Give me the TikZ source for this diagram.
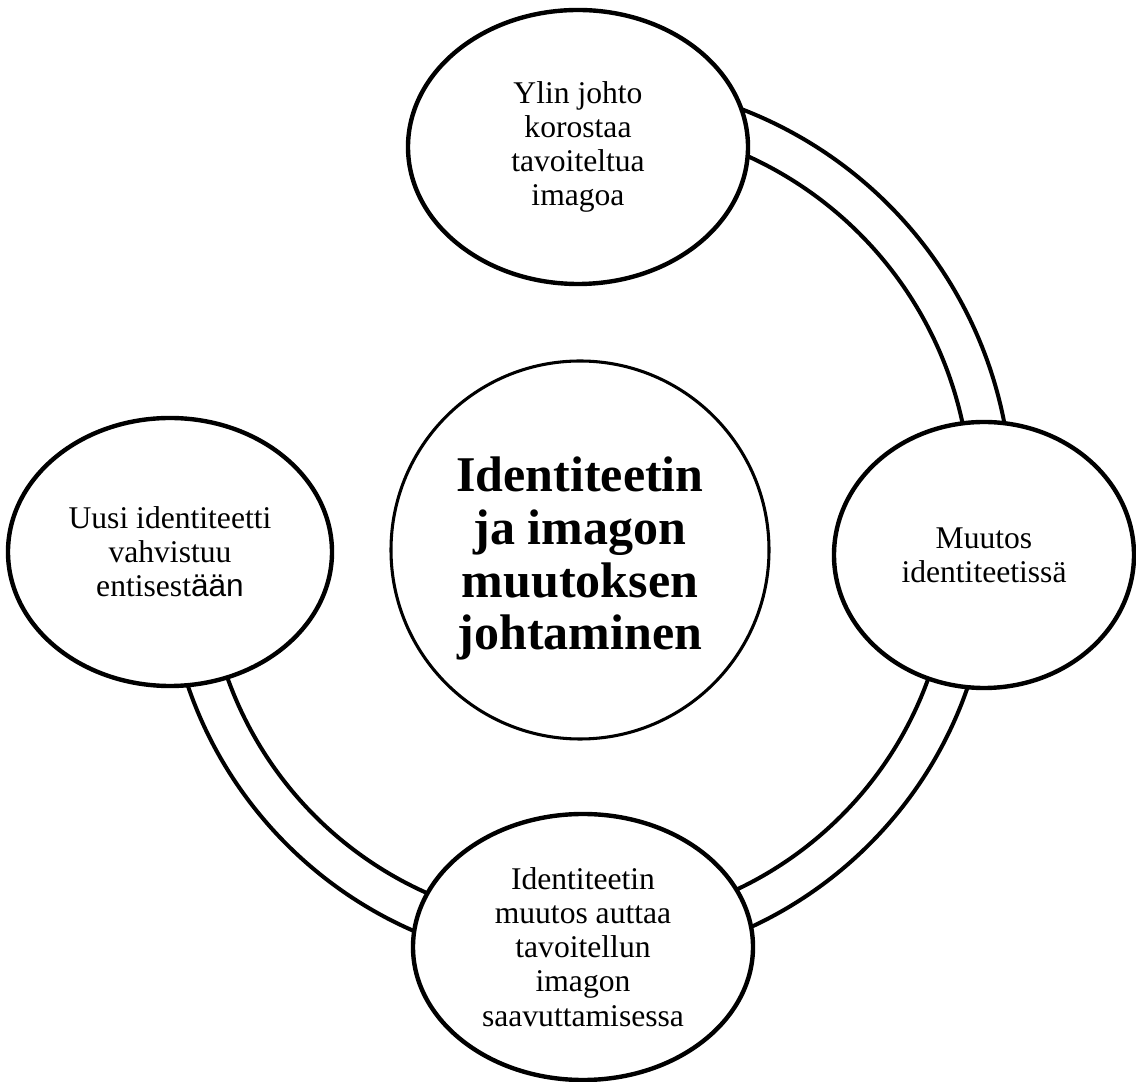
\documentclass[tikz,border=0pt]{standalone}
\usepackage{fontspec}
\setmainfont{Liberation Serif}
\newfontfamily\arialfont{Liberation Sans}
\usetikzlibrary{shapes.geometric,backgrounds}

\begin{document}
\begin{tikzpicture}[x=0.75pt,y=0.75pt,
  bubble/.style={ellipse, draw, line width=3.3pt, fill=white, inner sep=0pt,
    align=center, font=\fontsize{23.7}{25.6}\selectfont},
  hub/.style={circle, draw, line width=2.3pt, fill=white, inner sep=0pt,
    minimum size=283.5pt},
  hubtext/.style={align=center, inner sep=0pt,
    font=\fontsize{37.5}{39.5}\selectfont\bfseries},
  band/.style={line width=3pt}]
\useasboundingbox (0,0) rectangle (1136,1082);

% centre of the cycle
\node[hub] (hub) at (580,532) {};
\node[hubtext] (hublabel) at ([yshift=-6.5pt]hub.center)
  {Identiteetin\\ja imagon\\muutoksen\\johtaminen};

% the four stages
\node[bubble, minimum width=255pt, minimum height=205.5pt] (top) at (578,935)
  {Ylin johto\\korostaa\\tavoiteltua\\imagoa};
\node[bubble, minimum width=225pt, minimum height=199.5pt] (right) at (984,527)
  {Muutos\\identiteetissä};
\node[bubble, minimum width=255pt, minimum height=199.5pt] (bottom) at (583,135)
  {Identiteetin\\muutos auttaa\\tavoitellun\\imagon\\saavuttamisessa};
\node[bubble, minimum width=243pt, minimum height=201pt] (left) at (170,530)
  {Uusi identiteetti\\vahvistuu\\entisest{\arialfont ään}};

% double bands joining the stages, tucked behind the ellipses
\coordinate (ringA) at (590,579);
\coordinate (ringB) at (578,529);
\begin{scope}[on background layer]
  % top -> right
  \draw[band] (ringA) ++(100:422) arc[start angle=100, end angle=-5, radius=422];
  \draw[band] (ringA) ++(100:381) arc[start angle=100, end angle=-5, radius=381];
  % right -> bottom
  \draw[band] (ringB) ++(0:412) arc[start angle=0, end angle=-90, radius=412];
  \draw[band] (ringB) ++(0:372) arc[start angle=0, end angle=-90, radius=372];
  % bottom -> left
  \draw[band] (ringB) ++(-90:412) arc[start angle=-90, end angle=-180, radius=412];
  \draw[band] (ringB) ++(-90:372) arc[start angle=-90, end angle=-180, radius=372];
\end{scope}
\end{tikzpicture}
\end{document}
